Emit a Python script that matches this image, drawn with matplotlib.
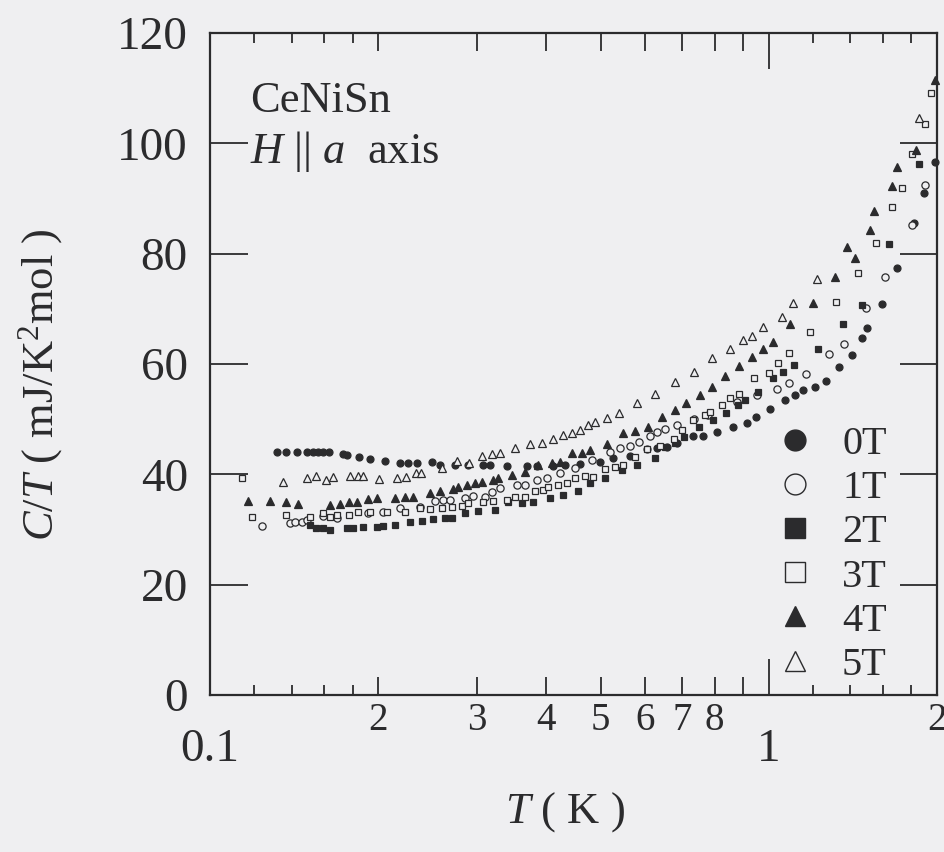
import matplotlib
matplotlib.use("Agg")
import matplotlib.pyplot as plt
from matplotlib.lines import Line2D
from matplotlib.ticker import NullLocator, NullFormatter

plt.rcParams['font.family'] = ['Liberation Serif', 'DejaVu Serif']
plt.rcParams['mathtext.fontset'] = 'custom'
plt.rcParams['mathtext.rm'] = 'Liberation Serif'
plt.rcParams['mathtext.it'] = 'Liberation Serif:italic'

# C/T (mJ/K^2 mol) vs T (K), CeNiSn, H || a axis
T_0T = [0.132, 0.137, 0.143, 0.149, 0.153, 0.156, 0.159, 0.163, 0.173, 0.176,
        0.185, 0.193, 0.206, 0.219, 0.226, 0.235, 0.250, 0.258, 0.274, 0.289,
        0.308, 0.317, 0.340, 0.369, 0.385, 0.411, 0.432, 0.459, 0.499, 0.526,
        0.564, 0.605, 0.631, 0.657, 0.685, 0.731, 0.762, 0.807, 0.862, 0.913,
        0.948, 1.004, 1.068, 1.113, 1.150, 1.209, 1.265, 1.334, 1.408, 1.467,
        1.497, 1.593, 1.694, 1.817, 1.894, 1.982]
C_0T = [44.0, 44.0, 44.0, 44.0, 44.0, 44.0, 44.0, 44.0, 43.6, 43.5,
        43.1, 42.8, 42.4, 42.1, 42.1, 42.1, 42.2, 41.7, 41.7, 41.7,
        41.7, 41.7, 41.5, 41.5, 41.5, 41.5, 41.7, 41.9, 42.2, 43.0,
        43.3, 44.6, 44.8, 45.0, 45.7, 46.9, 46.9, 47.7, 48.6, 49.3,
        50.4, 51.8, 53.5, 54.4, 55.3, 55.8, 56.9, 59.5, 61.6, 64.7,
        66.5, 70.9, 77.4, 85.6, 91.0, 96.6]

T_1T = [0.124, 0.139, 0.142, 0.146, 0.149, 0.159, 0.169, 0.192, 0.204, 0.219,
        0.238, 0.253, 0.261, 0.269, 0.286, 0.295, 0.310, 0.320, 0.330, 0.354,
        0.366, 0.385, 0.401, 0.423, 0.450, 0.482, 0.520, 0.541, 0.564, 0.585,
        0.613, 0.631, 0.652, 0.685, 0.734, 0.780, 0.877, 0.952, 1.034, 1.086,
        1.165, 1.281, 1.362, 1.491, 1.613, 1.803, 1.901]
C_1T = [30.6, 31.2, 31.4, 31.4, 31.7, 32.4, 32.1, 33.0, 33.2, 33.9,
        34.1, 35.2, 35.3, 35.3, 35.7, 36.1, 35.9, 36.8, 37.5, 38.1,
        38.1, 39.0, 39.3, 40.2, 41.1, 42.6, 44.0, 44.8, 45.1, 45.9,
        46.9, 47.7, 48.2, 48.9, 50.0, 50.8, 53.1, 54.4, 55.5, 56.6,
        58.2, 61.8, 63.6, 70.1, 75.8, 85.2, 92.4]

T_2T = [0.151, 0.155, 0.159, 0.164, 0.176, 0.180, 0.188, 0.199, 0.204, 0.214,
        0.228, 0.240, 0.251, 0.263, 0.271, 0.286, 0.302, 0.324, 0.341, 0.362,
        0.378, 0.406, 0.428, 0.455, 0.478, 0.509, 0.546, 0.581, 0.625, 0.652,
        0.679, 0.705, 0.750, 0.794, 0.838, 0.880, 0.906, 0.956, 1.017, 1.059,
        1.108, 1.224, 1.356, 1.467, 1.640, 1.855]
C_2T = [30.8, 30.3, 30.3, 29.9, 30.3, 30.3, 30.5, 30.5, 30.6, 30.8,
        31.4, 31.5, 31.9, 32.1, 32.1, 33.0, 33.4, 33.5, 35.0, 34.8,
        35.0, 35.7, 36.3, 37.0, 38.4, 39.3, 40.8, 41.7, 43.0, 45.0,
        45.7, 46.8, 48.6, 49.8, 51.1, 52.6, 53.5, 54.9, 57.5, 58.5,
        59.8, 62.7, 67.2, 70.7, 81.7, 96.2]

T_3T = [0.114, 0.119, 0.137, 0.151, 0.159, 0.164, 0.169, 0.177, 0.184, 0.193,
        0.207, 0.223, 0.238, 0.248, 0.260, 0.271, 0.282, 0.289, 0.308, 0.321,
        0.340, 0.351, 0.366, 0.381, 0.394, 0.403, 0.419, 0.435, 0.450, 0.469,
        0.484, 0.509, 0.530, 0.548, 0.576, 0.605, 0.638, 0.676, 0.699, 0.731,
        0.768, 0.784, 0.824, 0.852, 0.884, 0.940, 1.000, 1.038, 1.086, 1.184,
        1.318, 1.443, 1.554, 1.660, 1.730, 1.803, 1.901, 1.949]
C_3T = [39.3, 32.3, 32.6, 32.3, 33.0, 32.3, 32.6, 32.6, 33.2, 33.2,
        33.2, 33.2, 33.9, 33.7, 33.9, 34.1, 34.3, 34.8, 35.0, 35.2,
        35.3, 35.9, 35.9, 37.0, 37.2, 37.7, 38.1, 38.4, 39.3, 39.7,
        39.5, 41.0, 41.3, 41.7, 43.1, 44.6, 45.1, 46.4, 48.0, 49.8,
        50.8, 51.3, 52.6, 53.8, 54.6, 57.5, 58.4, 60.2, 62.0, 65.8,
        71.2, 76.5, 81.9, 88.5, 91.9, 98.1, 103.5, 109.1]

T_4T = [0.117, 0.128, 0.137, 0.144, 0.164, 0.171, 0.177, 0.183, 0.192, 0.199,
        0.214, 0.223, 0.231, 0.248, 0.258, 0.272, 0.278, 0.288, 0.298, 0.307,
        0.321, 0.328, 0.347, 0.366, 0.386, 0.409, 0.423, 0.444, 0.463, 0.478,
        0.513, 0.548, 0.576, 0.607, 0.644, 0.679, 0.711, 0.753, 0.791, 0.834,
        0.884, 0.932, 0.976, 1.017, 1.090, 1.198, 1.313, 1.378, 1.425, 1.516,
        1.541, 1.660, 1.694, 1.832, 1.982]
C_4T = [35.2, 35.2, 35.0, 34.6, 34.4, 34.6, 35.0, 35.0, 35.5, 35.7,
        35.7, 35.9, 35.9, 36.6, 37.0, 37.3, 37.7, 38.1, 38.4, 38.6,
        39.0, 39.3, 39.9, 40.4, 41.7, 42.1, 42.2, 43.9, 43.9, 44.4,
        45.5, 47.5, 47.9, 48.6, 50.4, 51.7, 52.9, 54.4, 55.8, 57.8,
        59.6, 61.3, 62.7, 64.0, 67.2, 71.1, 75.8, 81.2, 79.2, 84.3,
        87.7, 92.3, 95.7, 98.8, 111.5]

T_5T = [0.135, 0.149, 0.155, 0.161, 0.166, 0.178, 0.184, 0.188, 0.201, 0.216,
        0.224, 0.234, 0.239, 0.260, 0.277, 0.291, 0.307, 0.320, 0.330, 0.351,
        0.374, 0.393, 0.411, 0.428, 0.444, 0.459, 0.475, 0.489, 0.513, 0.539,
        0.581, 0.625, 0.679, 0.734, 0.791, 0.852, 0.899, 0.932, 0.976, 1.055,
        1.104, 1.218, 1.855]
C_5T = [38.6, 39.3, 39.7, 39.0, 39.5, 39.7, 39.7, 39.7, 39.2, 39.3,
        39.5, 40.2, 40.2, 41.1, 42.4, 42.1, 43.3, 43.7, 43.9, 44.8,
        45.5, 45.7, 46.4, 47.1, 47.5, 48.0, 48.9, 49.5, 50.2, 51.1,
        52.9, 54.6, 56.7, 58.5, 61.1, 62.7, 64.3, 65.1, 66.7, 68.5,
        71.1, 75.4, 104.6]

labels = ['0T', '1T', '2T', '3T', '4T', '5T']
x_major = [0.1, 1]
x_major_labels = ['0.1', '1']
x_minor = [0.2, 0.3, 0.4, 0.5, 0.6, 0.7, 0.8, 0.9, 2]
x_minor_labels = ['2', '3', '4', '5', '6', '7', '8', '', '2']
x_short = [0.12, 0.14, 0.16, 0.18, 1.2, 1.4, 1.6, 1.8]
y_ticks = [0, 20, 40, 60, 80, 100, 120]

ink = '#2b2b2d'
paper = '#efeff1'

fig = plt.figure(figsize=(9.45, 8.52), dpi=100, facecolor=paper)
ax = fig.add_axes([0.2222, 0.1843, 0.7693, 0.7770], facecolor=paper)

series = [(T_0T, C_0T, 'o', True, 5.0),
          (T_1T, C_1T, 'o', False, 5.2),
          (T_2T, C_2T, 's', True, 4.8),
          (T_3T, C_3T, 's', False, 5.0),
          (T_4T, C_4T, '^', True, 5.8),
          (T_5T, C_5T, '^', False, 5.8)]

handles = []
for (t, c, m, filled, ms), lab in zip(series, labels):
    fc = ink if filled else paper
    ax.plot(t, c, ls='none', marker=m, ms=ms, mfc=fc, mec=ink, mew=0.9, clip_on=False)
    handles.append(Line2D([], [], ls='none', marker=m, ms=15, mfc=fc, mec=ink, mew=1.0))

ax.set_xscale('log')
ax.set_xlim(0.1, 2)
ax.set_ylim(0, 120)

ax.set_xticks(x_major, x_major_labels)
ax.set_xticks(x_minor, x_minor_labels, minor=True)
ax.set_yticks(y_ticks)

ax.tick_params(axis='x', which='major', direction='in', length=26, width=1.3,
               top=True, labelsize=34, pad=24, colors=ink)
ax.tick_params(axis='x', which='minor', direction='in', length=13, width=1.3,
               top=True, labelsize=28, pad=5, colors=ink)
ax.tick_params(axis='y', which='major', direction='in', length=27, width=1.3,
               right=True, labelsize=34, pad=16, colors=ink)

# shortest ticks (0.12..0.18, 1.2..1.8) on bottom and top
for loc in ['bottom', 'top']:
    sec = ax.secondary_xaxis(loc)
    sec.set_xticks(x_short)
    sec.xaxis.set_minor_locator(NullLocator())
    sec.xaxis.set_major_formatter(NullFormatter())
    sec.tick_params(direction='in', length=7, width=1.3, colors=ink)
    for s in sec.spines.values():
        s.set_visible(False)

for s in ax.spines.values():
    s.set_linewidth(1.6)
    s.set_color(ink)

ax.text(0.055, 0.881, 'CeNiSn', transform=ax.transAxes, fontsize=32, color=ink)
ax.text(0.055, 0.804, '$H$ || $a$  axis', transform=ax.transAxes, fontsize=32, color=ink)

ax.set_ylabel('$C/T$ ( mJ/K$^2$mol )', fontsize=32, color=ink)
ax.set_xlabel('$T$ ( K )', fontsize=32, color=ink)
ax.yaxis.set_label_coords(-0.199, 0.468)
ax.xaxis.set_label_coords(0.488, -0.143)

ax.legend(handles, labels, loc='upper left', bbox_to_anchor=(0.788, 0.406),
          frameon=False, fontsize=29, borderaxespad=0, borderpad=0,
          handlelength=0.6, handletextpad=0.87, labelspacing=0.17,
          labelcolor=ink)

fig.savefig('out.png', dpi=100, facecolor=paper)
